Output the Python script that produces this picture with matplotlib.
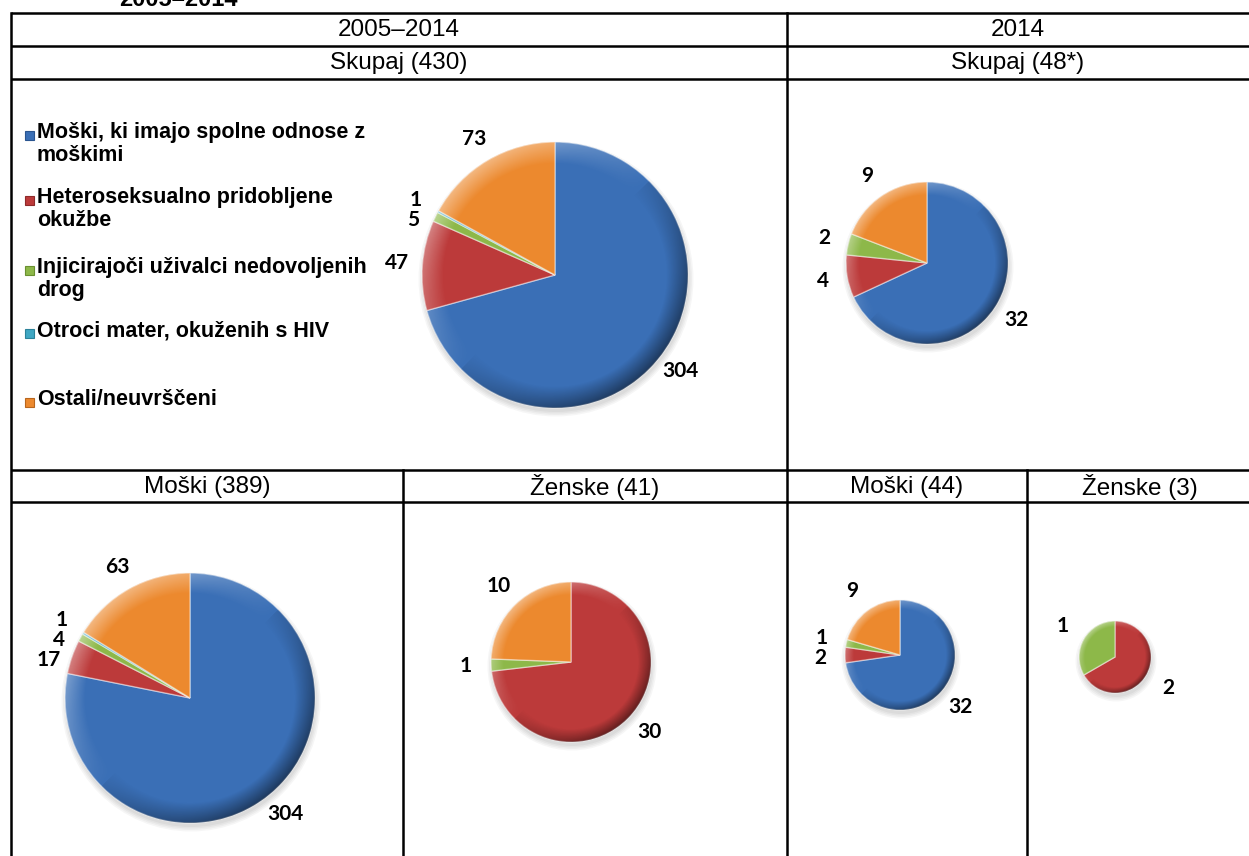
import numpy as np
import matplotlib.pyplot as plt
from matplotlib.patches import Circle, Rectangle

W, H = 1249, 856

# legend categories and colours
categories = ['Moški, ki imajo spolne odnose z\nmoškimi',
              'Heteroseksualno pridobljene\nokužbe',
              'Injicirajoči uživalci nedovoljenih\ndrog',
              'Otroci mater, okuženih s HIV',
              'Ostali/neuvrščeni']
colors = ['#3A6FB6', '#BC3A3A', '#8DB849', '#3FA7C3', '#EC892E']
edge_colors = ['#2A5590', '#8E2A2A', '#6A9030', '#2C829A', '#B8661E']

# values per pie (same order as categories)
skupaj_0514 = [304, 47, 5, 1, 73]
moski_0514 = [304, 17, 4, 1, 63]
zenske_0514 = [0, 30, 1, 0, 10]
skupaj_14 = [32, 4, 2, 0, 9]
moski_14 = [32, 2, 1, 0, 9]
zenske_14 = [0, 2, 1, 0, 0]

# header texts
period_headers = ['2005–2014', '2014']
total_headers = ['Skupaj (430)', 'Skupaj (48*)']
sex_headers = ['Moški (389)', 'Ženske (41)', 'Moški (44)', 'Ženske (3)']

fig = plt.figure(figsize=(W / 100, H / 100), dpi=100)
ax = fig.add_axes([0, 0, 1, 1])


def Y(y):
    return H - y


hfont = dict(family=['Liberation Sans', 'DejaVu Sans'], color='black')
lfont = dict(family=['Lato', 'DejaVu Sans'], fontweight='bold', fontsize=15, color='black')

# table grid
lw = 1.8
for y in [13, 46, 79, 470, 502]:
    ax.plot([11, W], [Y(y), Y(y)], color='black', lw=lw, solid_capstyle='butt')
ax.plot([11, 11], [Y(13), 0], color='black', lw=lw)
ax.plot([787, 787], [Y(13), 0], color='black', lw=lw)
ax.plot([403, 403], [Y(470), 0], color='black', lw=lw)
ax.plot([1027, 1027], [Y(470), 0], color='black', lw=lw)

# cut-off title at the top (only its lower edge shows in the source)
ax.text(178, Y(6), '2005–2014', ha='center', va='baseline', fontsize=17,
        fontweight='bold', **hfont)

# header cells
for txt, x in zip(period_headers, [399, 1018]):
    ax.text(x, Y(30), txt, ha='center', va='center', fontsize=17.5, **hfont)
for txt, x in zip(total_headers, [399, 1018]):
    ax.text(x, Y(63), txt, ha='center', va='center', fontsize=17.5, **hfont)
for txt, x in zip(sex_headers, [207, 595, 907, 1140]):
    ax.text(x, Y(487), txt, ha='center', va='center', fontsize=17.5, **hfont)

# legend
leg_y = [135, 200, 270, 333, 402]
for lab, c, ec, y in zip(categories, colors, edge_colors, leg_y):
    ax.add_patch(Rectangle((25, Y(y) - 4.5), 9, 9, facecolor=c, edgecolor=ec, lw=0.8))
    ax.text(37, Y(y) + 13, lab, ha='left', va='top', fontsize=15.5, fontweight='bold',
            linespacing=1.15, **hfont)


def shade(cx, cy, r):
    n = 256
    xs = np.linspace(-1, 1, n)
    X, Yg = np.meshgrid(xs, xs)
    rr = np.hypot(X, Yg)
    g = np.clip((rr - 0.84) / 0.16, 0, 1)
    dirv = (-X + Yg) / (np.maximum(rr, 1e-6) * np.sqrt(2))
    rgba = np.zeros((n, n, 4))
    light = dirv > 0
    rgba[light, :3] = 1
    rgba[..., 3] = np.where(light, g * dirv * 0.4, g * (-dirv) * 0.4 + g * 0.08)
    im = ax.imshow(rgba, extent=(cx - r, cx + r, Y(cy) - r, Y(cy) + r), origin='lower',
                   interpolation='bilinear', zorder=3)
    im.set_clip_path(Circle((cx, Y(cy)), r, transform=ax.transData))


def draw_pie(vals, cx, cy, r):
    idx = [i for i, v in enumerate(vals) if v > 0]
    v = [vals[i] for i in idx]
    # soft shadow
    for k in range(4):
        ax.add_patch(Circle((cx + 1, Y(cy) - 4), r + k * 1.5, color='black', alpha=0.035,
                            zorder=1, lw=0))
    ax.pie(v, colors=[colors[i] for i in idx], startangle=90, counterclock=False,
           radius=r, center=(cx, Y(cy)), frame=True,
           wedgeprops=dict(edgecolor=(1, 1, 1, 0.45), linewidth=1, zorder=2))
    shade(cx, cy, r)

    # value labels around the pie
    total = sum(vals)
    cum = 0
    labs = []
    for val in vals:
        if val > 0:
            a = np.deg2rad(90 - 360 * (cum + val / 2) / total)
            d = r + 25
            labs.append([cx + d * np.cos(a), cy - d * np.sin(a), str(val)])
        cum += val
    left = sorted([l for l in labs if l[0] < cx], key=lambda l: l[1])
    for i in range(1, len(left)):
        if left[i][1] - left[i - 1][1] < 20:
            left[i][1] = left[i - 1][1] + 20
    for x, y, t in labs:
        ax.text(x, Y(y), t, ha='center', va='center', zorder=5, **lfont)


draw_pie(skupaj_0514, 555, 275, 133)
draw_pie(skupaj_14, 927, 263, 81)
draw_pie(moski_0514, 190, 698, 125)
draw_pie(zenske_0514, 571, 662, 80)
draw_pie(moski_14, 900, 655, 55)
draw_pie(zenske_14, 1115, 657, 36)

ax.set_xlim(0, W)
ax.set_ylim(0, H)
ax.set_aspect('auto')
ax.axis('off')
fig.savefig('out.png', dpi=100)
